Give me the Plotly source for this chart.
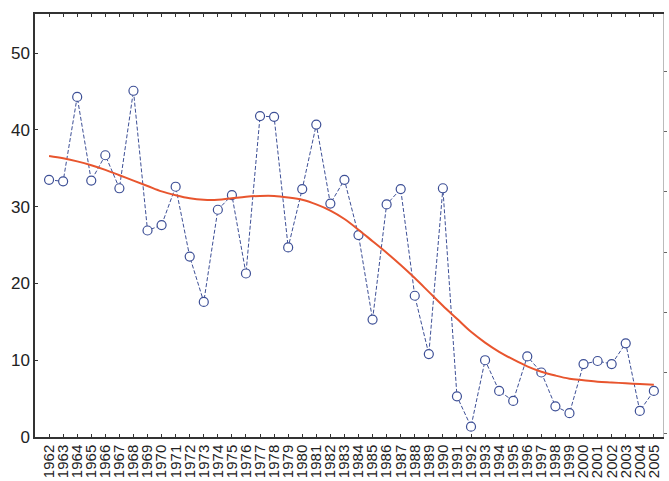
import plotly.graph_objects as go

# Annual observations, 1962-2005
years = list(range(1962, 2006))
values = [33.5, 33.3, 44.3, 33.4, 36.7, 32.4, 45.1, 26.9, 27.6, 32.6,
          23.5, 17.6, 29.6, 31.5, 21.3, 41.8, 41.7, 24.7, 32.3, 40.7,
          30.4, 33.5, 26.3, 15.3, 30.3, 32.3, 18.4, 10.8, 32.4, 5.3,
          1.35, 10.0, 6.0, 4.7, 10.5, 8.4, 4.0, 3.1, 9.5, 9.9,
          9.5, 12.2, 3.4, 6.0]

# Smoothed trend through the annual series
trend = [36.6, 36.3, 35.9, 35.4, 34.8, 34.1, 33.4, 32.7, 32.0, 31.5,
         31.1, 30.9, 30.9, 31.1, 31.3, 31.4, 31.4, 31.2, 30.9, 30.3,
         29.5, 28.4, 27.0, 25.5, 24.0, 22.4, 20.7, 18.9, 17.1, 15.4,
         13.7, 12.3, 11.1, 10.1, 9.2, 8.5, 8.0, 7.6, 7.4, 7.2,
         7.1, 7.0, 6.9, 6.8]

y_ticks = [0, 10, 20, 30, 40, 50]

y_font = dict(family="Liberation Sans, Arial, sans-serif", size=17, color="#222222")
x_font = dict(family="Liberation Sans, Arial, sans-serif", size=15, color="#222222")

fig = go.Figure()

fig.add_trace(go.Scatter(
    x=years, y=values, mode="lines+markers",
    line=dict(color="#3d4f96", width=1, dash="4px,2px"),
    marker=dict(symbol="circle", size=9, color="white",
                line=dict(color="#3d4f96", width=1.2)),
    showlegend=False, hoverinfo="x+y",
))

fig.add_trace(go.Scatter(
    x=years, y=trend, mode="lines",
    line=dict(color="#e8552e", width=2, shape="spline"),
    showlegend=False, hoverinfo="x+y",
))

# placeholder trace so the right-hand axis is drawn
fig.add_trace(go.Scatter(x=[None], y=[None], yaxis="y2", showlegend=False,
                         hoverinfo="skip"))

fig.update_layout(
    width=669, height=481,
    margin=dict(l=35, r=3, t=14, b=44),
    paper_bgcolor="white", plot_bgcolor="white",
    xaxis=dict(
        range=[1961, 2005.65],
        tickmode="array", tickvals=years, ticktext=[str(y) for y in years],
        tickangle=-90, tickfont=x_font, ticklabelstandoff=0,
        ticks="inside", ticklen=3, tickwidth=1, tickcolor="#333333",
        showline=True, linecolor="#333333", linewidth=1.5, mirror="ticks",
        showgrid=False, zeroline=False, automargin=False,
    ),
    yaxis=dict(
        range=[0, 55.1],
        tickmode="array", tickvals=y_ticks, ticktext=[str(v) for v in y_ticks],
        tickfont=y_font,
        ticks="inside", ticklen=3, tickwidth=1, tickcolor="#333333",
        showline=True, linecolor="#333333", linewidth=1.5,
        showgrid=False, zeroline=False, automargin=False,
    ),
    yaxis2=dict(
        overlaying="y", side="right", range=[0, 7.015],
        tickmode="array", tickvals=[k + 0.066 for k in range(7)],
        showticklabels=False,
        ticks="outside", ticklen=3, tickwidth=1, tickcolor="#666666",
        showline=True, linecolor="#bbbbbb", linewidth=1,
        showgrid=False, zeroline=False,
    ),
)

fig.write_html("out.html")
